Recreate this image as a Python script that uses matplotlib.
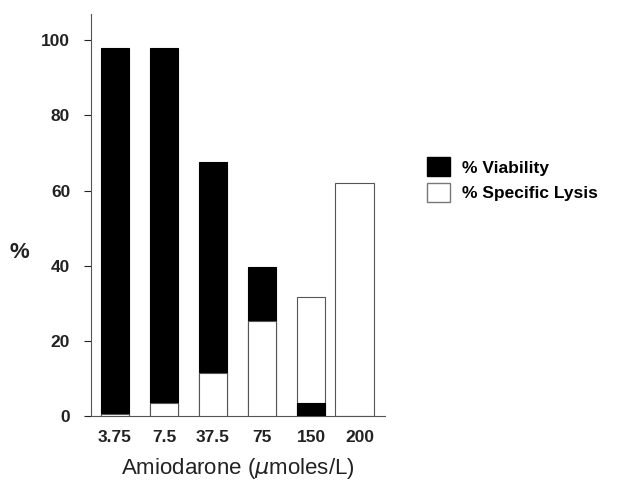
import numpy as np
import matplotlib
matplotlib.use("Agg")
import matplotlib.pyplot as plt
from matplotlib.patches import Patch

plt.rcParams['font.family'] = ['Liberation Sans', 'DejaVu Sans']

doses = ["3.75", "7.5", "37.5", "75", "150", "200"]
viability = [98, 98, 67.5, 39.6, 3.5, 0]
lysis = [0.7, 3.5, 11.5, 25.3, 31.6, 61.9]

# layout: the last bar sits a bit closer and is wider in the original
pos = np.arange(len(doses)) + np.array([0, 0, 0, 0, 0, -0.12])
width = np.array([0.59, 0.59, 0.59, 0.59, 0.59, 0.8])

fig = plt.figure(figsize=(6.19, 4.8), dpi=100)
ax = fig.add_axes([0.147, 0.133, 0.475, 0.838])

for i in range(len(doses)):
    v, l = viability[i], lysis[i]
    zv, zl = (2, 3) if v >= l else (3, 2)
    if v > 0:
        ax.bar(pos[i], v, width[i], color='black', edgecolor='black', linewidth=0.8, zorder=zv)
    ax.bar(pos[i], l, width[i], color='white', edgecolor='#555555', linewidth=0.8, zorder=zl)

ax.set_xlim(-0.49, 5.51)
ax.set_ylim(0, 107)
ax.set_yticks([0, 20, 40, 60, 80, 100])
ax.set_xticks(np.arange(len(doses)))
ax.set_xticklabels(doses)
ax.tick_params(axis='x', length=0, pad=10, labelsize=12.5)
ax.tick_params(axis='y', length=5, width=0.8, pad=10, labelsize=12.5, colors='#222222')
for lab in ax.get_xticklabels() + ax.get_yticklabels():
    lab.set_fontweight('bold')
    lab.set_color('#222222')

ax.spines['top'].set_visible(False)
ax.spines['right'].set_visible(False)
ax.spines['left'].set_color('#555555')
ax.spines['bottom'].set_color('#555555')
ax.spines['left'].set_linewidth(0.8)
ax.spines['bottom'].set_linewidth(0.8)

ax.set_xlabel("Amiodarone ($\\mu$moles/L)", fontsize=16, labelpad=8, color='#222222')
ax.set_ylabel("%", fontsize=16, fontweight='bold', rotation=0, color='#222222')
ax.yaxis.set_label_coords(-0.245, 0.38)

handles = [Patch(facecolor='black', edgecolor='black', label='% Viability'),
           Patch(facecolor='white', edgecolor='#777777', label='% Specific Lysis')]
fig.legend(handles=handles, loc='upper left', bbox_to_anchor=(0.665, 0.705),
           frameon=False, prop={'weight': 'bold', 'size': 12.5},
           handlelength=1.3, handleheight=1.3, handletextpad=0.7, labelspacing=0.4)

fig.savefig("out.png", dpi=100)
